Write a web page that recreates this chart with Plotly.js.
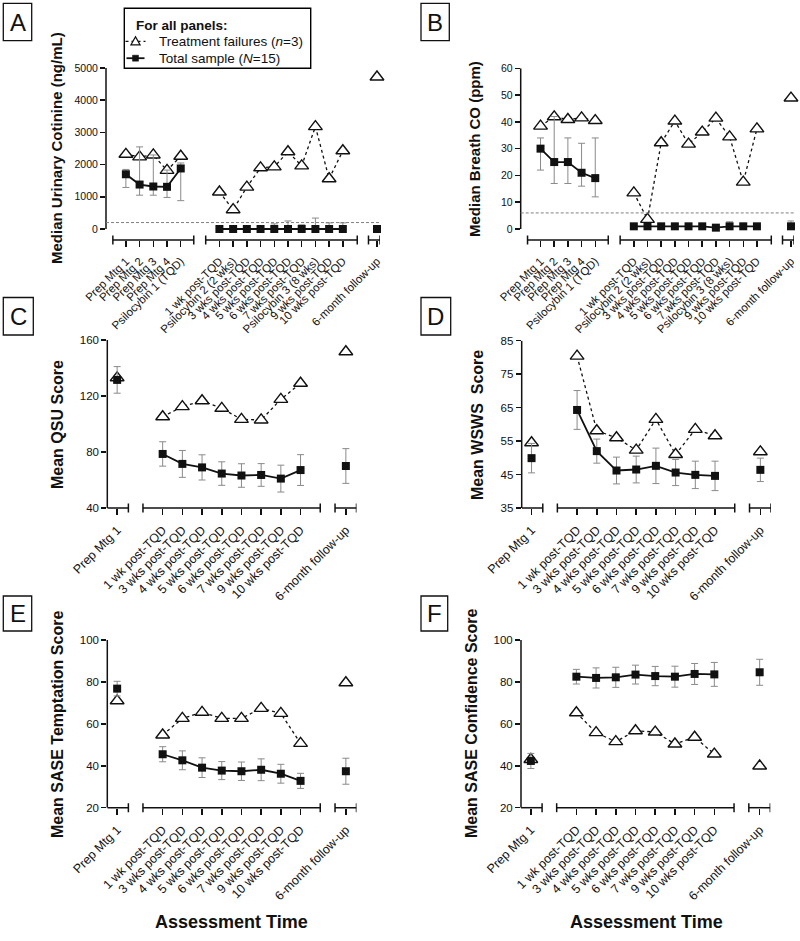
<!DOCTYPE html>
<html><head><meta charset="utf-8">
<script src="https://cdn.plot.ly/plotly-3.0.1.min.js"></script>
<style>html,body{margin:0;padding:0;background:#fff}#chart{width:800px;height:941px}</style>
</head><body><div id="chart"></div>
<script>
// ---------- categories ----------
const catsAB = ["Prep Mtg 1","Prep Mtg 2","Prep Mtg 3","Prep Mtg 4","Psilocybin 1 (TQD)",
  "1 wk post-TQD","Psilocybin 2 (2 wks)","3 wks post-TQD","4 wks post-TQD","5 wks post-TQD",
  "6 wks post-TQD","7 wks post-TQD","Psilocybin 3 (8 wks)","9 wks post-TQD","10 wks post-TQD",
  "6-month follow-up"];
const catsCF = ["Prep Mtg 1","1 wk post-TQD","3 wks post-TQD","4 wks post-TQD","5 wks post-TQD",
  "6 wks post-TQD","7 wks post-TQD","9 wks post-TQD","10 wks post-TQD","6-month follow-up"];
const segSizesAB = [5,10,1];
const segSizesCF = [1,8,1];
const seriesNames = ["Treatment failures (<i>n</i>=3)", "Total sample (<i>N</i>=15)"];

// ---------- Panel A: urinary cotinine (median, IQR) ----------
const A_fail    = [2320,2240,2300,1820,2260, 1150,600,1300,1900,1930,2400,1960,3180,1560,2430, 4720];
const A_total   = [1700,1380,1320,1310,1880, 0,0,0,0,0,0,0,0,0,0, 0];
const A_totalHi = [1850,2550,2300,1830,2050, 0,0,0,0,160,250,130,340,190,190, 0];
const A_totalLo = [1290,1050,1050,980,880, 0,0,0,0,0,0,0,0,0,0, 0];
const A_cutoff = 200;

// ---------- Panel B: breath CO (median, IQR) ----------
const B_fail    = [38.4,41.9,40.9,41.5,40.5, 13.5,3.6,32.2,40.3,31.7,36.2,41.4,34.4,17.5,37.4, 48.9];
const B_total   = [30,25,25,21,19, 1,1,1,1,1,1,0.5,1,1,1, 1];
const B_totalHi = [34,42,34,32,34, 1,1,1,1,1,1,0.5,2.7,1,1, 3];
const B_totalLo = [22,17,17,16,12, 1,1,1,1,1,1,0.5,1,1,1, 1];
const B_cutoff = 6;

// ---------- Panel C: QSU (mean, SEM) ----------
const C_fail  = [133, 105.2,112.4,116.6,111.2,103.3,102.9,117.6,129.1, 151.6];
const C_total = [131.5, 78.6,71.5,69.0,64.6,63.2,63.6,61.0,67.1, 70.0];
const C_sem   = [9.5, 8.7,9.6,9.0,8.4,8.4,8.1,9.6,11.0, 12.4];

// ---------- Panel D: WSWS (mean, SEM) ----------
const D_fail  = [54.5, 80.4,58.1,56.0,52.3,61.5,51.0,58.5,56.6, 51.8];
const D_total = [49.9, 64.3,52.0,46.2,46.5,47.6,45.6,44.9,44.6, 46.4];
const D_sem   = [4.4, 5.8,3.6,4.0,4.0,5.3,3.9,4.1,4.4, 3.5];

// ---------- Panel E: SASE temptation (mean, SEM) ----------
const E_fail  = [71.0, 54.7,62.6,65.5,62.6,62.6,67.4,65.0,50.7, 79.6];
const E_total = [76.8, 45.5,42.6,39.1,37.7,37.4,38.1,36.2,32.8, 37.4];
const E_sem   = [3.5, 3.6,4.5,4.7,4.3,4.4,5.2,4.5,3.6, 6.2];

// ---------- Panel F: SASE confidence (mean, SEM) ----------
const F_fail  = [43.0, 65.3,55.8,51.5,56.7,56.1,50.4,53.6,45.6, 39.9];
const F_total = [42.3, 82.5,81.9,82.2,83.5,82.8,82.5,83.8,83.6, 84.6];
const F_sem   = [3.6, 3.5,4.8,4.8,4.5,4.6,5.0,5.0,5.7, 6.2];

// ---------- layout helpers ----------
const FONT = "Liberation Sans, Arial, Helvetica, sans-serif";
const W = 800, H = 941;
const INK = "#111111";

function segLayout(sizes, padL, padR, gaps, lead){
  const pos=[], segs=[]; let cur=lead;
  sizes.forEach((n,s)=>{
    const start=cur, p=start+padL[s];
    for(let i=0;i<n;i++) pos.push(p+i);
    const end=p+(n-1)+padR[s];
    segs.push([start,end]);
    cur=end+(gaps[s]||0);
  });
  return {pos, segs, end: segs[segs.length-1][1]};
}
const LAB = segLayout(segSizesAB,[0.95,1.0,0.62],[0.95,1.05,0.22],[0.87,0.82],0.5);
const LCF = segLayout(segSizesCF,[0.5,1.0,0.55],[0.57,1.0,0.54],[0.74,0.75],0.0);

function gapped(arr, sizes){
  const out=[]; let k=0;
  sizes.forEach((n,s)=>{ if(s>0) out.push(null); for(let i=0;i<n;i++) out.push(arr[k++]); });
  return out;
}

const panels = [
  {id:"A", L:LAB, cats:catsAB, sizes:segSizesAB, fail:A_fail, tot:A_total,
   errUp:A_totalHi.map((v,i)=>v-A_total[i]), errDn:A_total.map((v,i)=>v-A_totalLo[i]),
   ymin:0, ymax:5000, dtick:1000, offsetPx:11, cutoff:A_cutoff,
   xpx:[106,380], ypx:[68,229], title:"Median Urinary Cotinine (ng/mL)", tpos:[57,148], tsize:15, fs:10.5, xfs:11.5,
   box:[3.3,3.3,31.7,40.7]},
  {id:"B", L:LAB, cats:catsAB, sizes:segSizesAB, fail:B_fail, tot:B_total,
   errUp:B_totalHi.map((v,i)=>v-B_total[i]), errDn:B_total.map((v,i)=>v-B_totalLo[i]),
   ymin:0, ymax:60, dtick:10, offsetPx:11, cutoff:B_cutoff,
   xpx:[520.7,794], ypx:[68.3,229], title:"Median Breath CO (ppm)", tpos:[474,149], tsize:15, fs:10.5, xfs:11.5,
   box:[421,3.3,449.3,40.7]},
  {id:"C", L:LCF, cats:catsCF, sizes:segSizesCF, fail:C_fail, tot:C_total, errUp:C_sem, errDn:C_sem,
   ymin:40, ymax:160, dtick:40, offsetPx:0,
   xpx:[107.3,356.5], ypx:[340,508], title:"Mean QSU Score", tpos:[57,424], tsize:16, fs:11.5, xfs:12.5,
   box:[3.3,297.5,33.3,335]},
  {id:"D", L:LCF, cats:catsCF, sizes:segSizesCF, fail:D_fail, tot:D_total, errUp:D_sem, errDn:D_sem,
   ymin:35, ymax:85, dtick:10, offsetPx:0,
   xpx:[521.7,771], ypx:[340.7,508], title:"Mean WSWS\u00a0 Score", tpos:[477,425], tsize:16, fs:11.5, xfs:12.5,
   box:[421,297.5,450.7,335]},
  {id:"E", L:LCF, cats:catsCF, sizes:segSizesCF, fail:E_fail, tot:E_total, errUp:E_sem, errDn:E_sem,
   ymin:20, ymax:100, dtick:20, offsetPx:0,
   xpx:[107.3,356.5], ypx:[640,807.7], title:"Mean SASE Temptation Score", tpos:[57,724], tsize:16, fs:11.5, xfs:12.5,
   box:[3.3,596,31.7,631], xtitle:[232,921.7]},
  {id:"F", L:LCF, cats:catsCF, sizes:segSizesCF, fail:F_fail, tot:F_total, errUp:F_sem, errDn:F_sem,
   ymin:20, ymax:100, dtick:20, offsetPx:0,
   xpx:[521,770.3], ypx:[640,807.7], title:"Mean SASE Confidence Score", tpos:[471,724], tsize:16, fs:11.5, xfs:12.5,
   box:[421,596,447.7,631], xtitle:[646.7,921.7]}
];

const data=[], shapes=[], annotations=[];
const layout = {
  width:W, height:H, margin:{l:0,r:0,t:0,b:0}, paper_bgcolor:"#fff", plot_bgcolor:"rgba(0,0,0,0)",
  font:{family:FONT, color:INK},
  showlegend:false,
  shapes, annotations
};

panels.forEach((p,i)=>{
  const n=i+1, xa="x"+(n===1?"":n), ya="y"+(n===1?"":n);
  const xk="xaxis"+(n===1?"":n), yk="yaxis"+(n===1?"":n);
  const L=p.L;
  const pxPerUnit=(p.ypx[1]-p.ypx[0])/(p.ymax-p.ymin);
  const ybot=p.ymin - p.offsetPx/pxPerUnit;
  const ytopPx=p.ypx[0], ybotPx=p.ypx[1]+p.offsetPx;
  layout[xk]={domain:[p.xpx[0]/W, p.xpx[1]/W], range:[0, L.end], anchor:ya,
    showline:false, zeroline:false, showgrid:false, ticks:"outside", ticklen:6, tickwidth:1.5, tickcolor:INK,
    tickmode:"array", tickvals:L.pos, ticktext:p.cats, tickangle:-45, ticklabelstandoff:3,
    tickfont:{size:p.xfs, family:FONT, color:INK}, fixedrange:true};
  const tv=[]; for(let v=p.ymin; v<=p.ymax+1e-9; v+=p.dtick) tv.push(v);
  layout[yk]={domain:[1-ybotPx/H, 1-ytopPx/H], range:[ybot, p.ymax], anchor:xa,
    showline:false, zeroline:false, showgrid:false, ticks:"outside", ticklen:5, tickwidth:1.5, tickcolor:INK,
    tickmode:"array", tickvals:tv, tickfont:{size:p.fs, family:FONT, color:INK}, fixedrange:true};

  // treatment failures (open triangles, dotted line)
  data.push({type:"scatter", mode:"lines+markers", xaxis:xa, yaxis:ya, cliponaxis:false,
    name:seriesNames[0], x:gapped(L.pos,p.sizes), y:gapped(p.fail,p.sizes), connectgaps:false,
    line:{color:INK, width:1.3, dash:"dot"},
    marker:{symbol:"triangle-up", size:12, color:"#fff", line:{color:INK, width:1.4}}});
  // total sample (filled squares, solid line, gray error bars)
  data.push({type:"scatter", mode:"lines+markers", xaxis:xa, yaxis:ya, cliponaxis:false,
    name:seriesNames[1], x:gapped(L.pos,p.sizes), y:gapped(p.tot,p.sizes), connectgaps:false,
    line:{color:INK, width:1.8},
    marker:{symbol:"square", size:8, color:INK},
    error_y:{type:"data", symmetric:false, array:gapped(p.errUp,p.sizes), arrayminus:gapped(p.errDn,p.sizes),
      color:"#8a8a8a", thickness:1, width:3.5}});

  // y axis line
  shapes.push({type:"line", xref:xa+" domain", yref:ya, x0:0, x1:0, y0:p.ymin, y1:p.ymax,
    line:{color:INK, width:1.5}});
  // x axis segments + end caps
  L.segs.forEach((s,si)=>{
    shapes.push({type:"line", xref:xa, yref:ya+" domain", x0:s[0], x1:s[1], y0:0, y1:0, line:{color:INK, width:1.5}});
    const ends = (p.offsetPx===0 && si===0) ? [s[1]] : [s[0], s[1]];
    ends.forEach(e=>shapes.push({type:"line", xref:xa, yref:ya+" domain", ysizemode:"pixel", yanchor:0,
      x0:e, x1:e, y0:-4.5, y1:4.5, line:{color:INK, width:1.5}}));
  });
  // reference cut-off
  if(p.cutoff!==undefined){
    shapes.push({type:"line", xref:xa+" domain", yref:ya, x0:0, x1:1, y0:p.cutoff, y1:p.cutoff,
      line:{color:"#808080", width:1, dash:"3px,2px"}});
  }
  // panel letter box
  shapes.push({type:"rect", xref:"paper", yref:"paper", x0:p.box[0]/W, x1:p.box[2]/W,
    y0:1-p.box[3]/H, y1:1-p.box[1]/H, line:{color:INK, width:1.3}});
  annotations.push({xref:"paper", yref:"paper", x:(p.box[0]+p.box[2])/2/W, y:1-(p.box[1]+p.box[3])/2/H,
    text:p.id, showarrow:false, xanchor:"center", yanchor:"middle", font:{size:24, family:FONT, color:INK}});
  // y title
  annotations.push({xref:"paper", yref:"paper", x:p.tpos[0]/W, y:1-p.tpos[1]/H, textangle:-90,
    text:"<b>"+p.title+"</b>", showarrow:false, xanchor:"center", yanchor:"middle",
    font:{size:p.tsize, family:FONT, color:INK}});
  if(p.xtitle){
    annotations.push({xref:"paper", yref:"paper", x:p.xtitle[0]/W, y:1-p.xtitle[1]/H,
      text:"<b>Assessment Time</b>", showarrow:false, xanchor:"center", yanchor:"middle",
      font:{size:18, family:FONT, color:INK}});
  }
});

// ---------- shared legend box ("For all panels") ----------
const LG = {x0:124.3, y0:8.3, x1:310.7, y1:68.3, titleY:25.5, rows:[41.3,58.2], symX:135.5, textX:157};
const px = v=>v/W, py = v=>1-v/H;
shapes.push({type:"rect", xref:"paper", yref:"paper", x0:px(LG.x0), x1:px(LG.x1), y0:py(LG.y1), y1:py(LG.y0),
  line:{color:"#000", width:1.4}, fillcolor:"#fff", layer:"above"});
annotations.push({xref:"paper", yref:"paper", x:px(LG.x0+10), y:py(LG.titleY), xanchor:"left", yanchor:"middle",
  showarrow:false, text:"<b>For all panels:</b>", font:{size:13.5, family:FONT, color:INK}});
seriesNames.forEach((nm,k)=>{
  const yy = LG.rows[k];
  annotations.push({xref:"paper", yref:"paper", x:px(LG.textX), y:py(yy), xanchor:"left", yanchor:"middle",
    showarrow:false, text:nm, font:{size:13.5, family:FONT, color:INK}});
  const common = {xref:"paper", yref:"paper", xsizemode:"pixel", ysizemode:"pixel", xanchor:px(LG.symX), yanchor:py(yy), layer:"above"};
  if(k===0){
    shapes.push(Object.assign({type:"line", x0:-10, x1:10, y0:0, y1:0, line:{color:INK, width:1.2, dash:"dot"}}, common));
    shapes.push(Object.assign({type:"path", path:"M -4.5 -3.5 L 4.5 -3.5 L 0 4.5 Z", fillcolor:"#fff", line:{color:INK, width:1.3}}, common));
  } else {
    shapes.push(Object.assign({type:"line", x0:-9, x1:9, y0:0, y1:0, line:{color:INK, width:1.8}}, common));
    shapes.push(Object.assign({type:"path", path:"M -3 -3 L 3 -3 L 3 3 L -3 3 Z", fillcolor:INK, line:{color:INK, width:0.5}}, common));
  }
});

Plotly.newPlot("chart", data, layout, {staticPlot:true, displayModeBar:false});
</script>
</body></html>
